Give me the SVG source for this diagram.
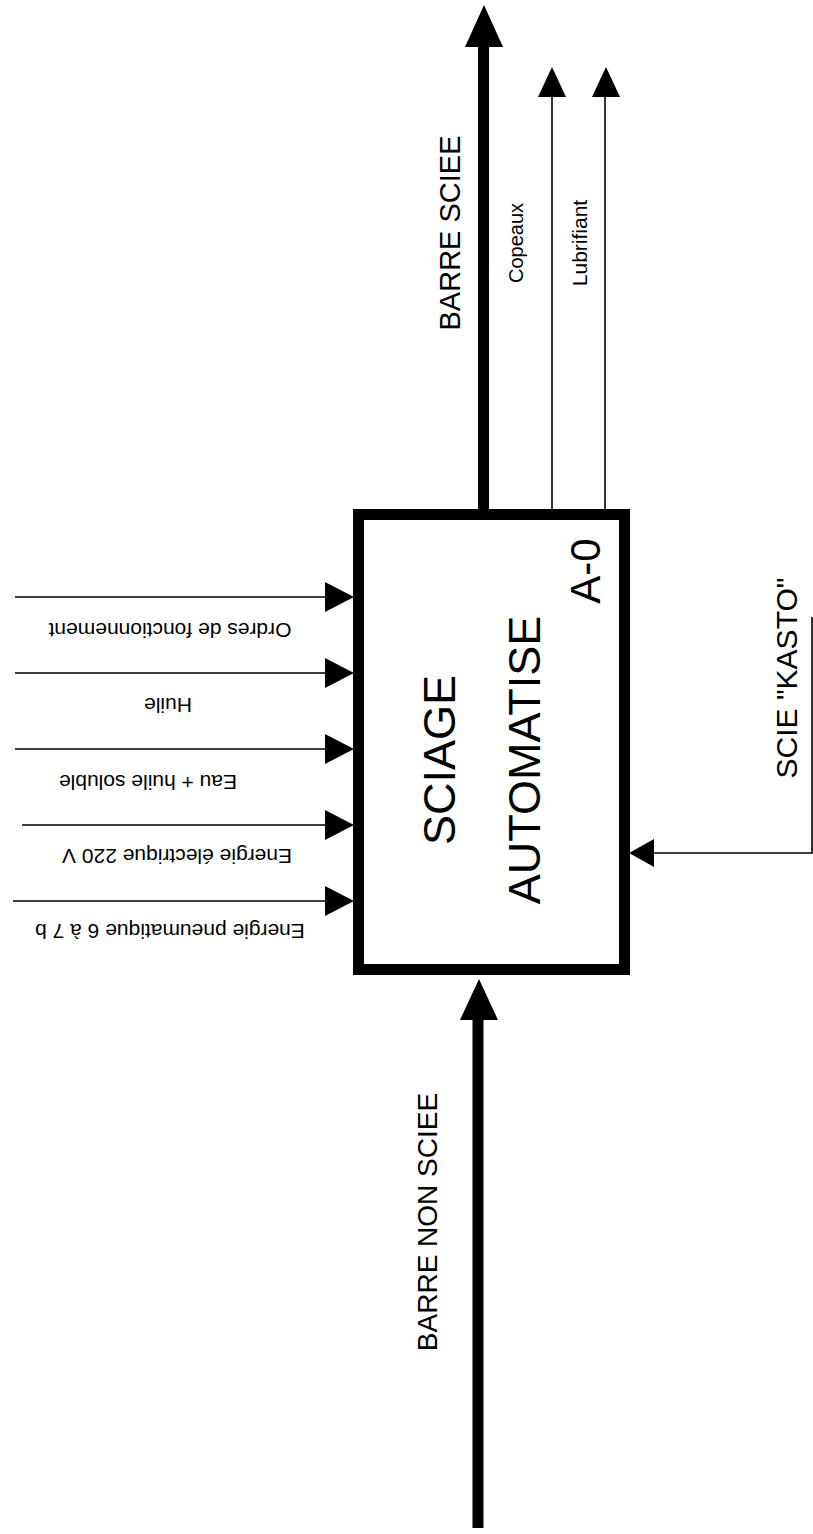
<svg xmlns="http://www.w3.org/2000/svg" width="813" height="1534" viewBox="0 0 813 1534">
<style>
  text { font-family: "Liberation Sans", Arial, sans-serif; fill: #000; text-anchor: middle; }
  .big { font-size: 45px; }
  .ref { font-size: 42px; }
  .lbl { font-size: 29px; }
  .sm { font-size: 21px; }
  .thick { stroke: #000; stroke-width: 11; fill: none; }
  .thin { stroke: #000; stroke-width: 1.6; fill: none; }
  .head { fill: #000; stroke: none; }
</style>
<rect width="813" height="1534" fill="#fff"/>

<g id="connectors">
  <!-- output: BARRE SCIEE -->
  <line class="thick" x1="483.5" y1="509" x2="483.5" y2="44"/>
  <polygon class="head" points="484,5 465,47 503,47"/>
  <!-- output: Copeaux -->
  <line class="thin" x1="552" y1="509" x2="552" y2="95"/>
  <polygon class="head" points="552,67 538,97 566,97"/>
  <!-- output: Lubrifiant -->
  <line class="thin" x1="605" y1="509" x2="605" y2="95"/>
  <polygon class="head" points="606,67 592,97 620,97"/>
  <!-- controls -->
  <line class="thin" x1="15" y1="597" x2="328" y2="597"/>
  <polygon class="head" points="354,597 325,582 325,612"/>
  <line class="thin" x1="15" y1="673" x2="328" y2="673"/>
  <polygon class="head" points="354,673 325,658 325,688"/>
  <line class="thin" x1="15" y1="749" x2="328" y2="749"/>
  <polygon class="head" points="354,749 325,734 325,764"/>
  <line class="thin" x1="22" y1="825" x2="328" y2="825"/>
  <polygon class="head" points="354,825 325,810 325,840"/>
  <line class="thin" x1="13" y1="901" x2="328" y2="901"/>
  <polygon class="head" points="354,901 325,886 325,916"/>
  <!-- mechanism -->
  <polyline class="thin" points="812,617 812,853 652,853"/>
  <polygon class="head" points="629,853 654,839 654,867"/>
  <!-- input: BARRE NON SCIEE -->
  <line class="thick" x1="478" y1="1528" x2="478" y2="1016"/>
  <polygon class="head" points="479,979 460,1020 498,1020"/>
</g>

<g id="node-A0">
  <rect class="thick" x="358.5" y="514.5" width="266" height="455"/>
  <text class="big" transform="translate(455,760) rotate(-90)">SCIAGE</text>
  <text class="big" transform="translate(540,760) rotate(-90)">AUTOMATISE</text>
  <text class="ref" transform="translate(600,571) rotate(-90)">A-0</text>
</g>

<g id="labels">
  <text class="lbl" transform="translate(460,233) rotate(-90)">BARRE SCIEE</text>
  <text class="sm" style="font-size:20px" transform="translate(523,243) rotate(-90)">Copeaux</text>
  <text class="sm" transform="translate(587,243) rotate(-90)">Lubrifiant</text>
  <text class="lbl" style="font-size:30px" transform="translate(797,678) rotate(-90)">SCIE "KASTO"</text>
  <text class="lbl" style="font-size:28px" transform="translate(437,1222) rotate(-90)">BARRE NON SCIEE</text>
  <text class="sm" transform="translate(170,623) rotate(180)">Ordres de fonctionnement</text>
  <text class="sm" transform="translate(168,698) rotate(180)">Huile</text>
  <text class="sm" transform="translate(148,775) rotate(180)">Eau + huile soluble</text>
  <text class="sm" transform="translate(177,849) rotate(180)">Energie électrique 220 V</text>
  <text class="sm" transform="translate(170,924) rotate(180)">Energie pneumatique 6 à 7 b</text>
</g>
</svg>
